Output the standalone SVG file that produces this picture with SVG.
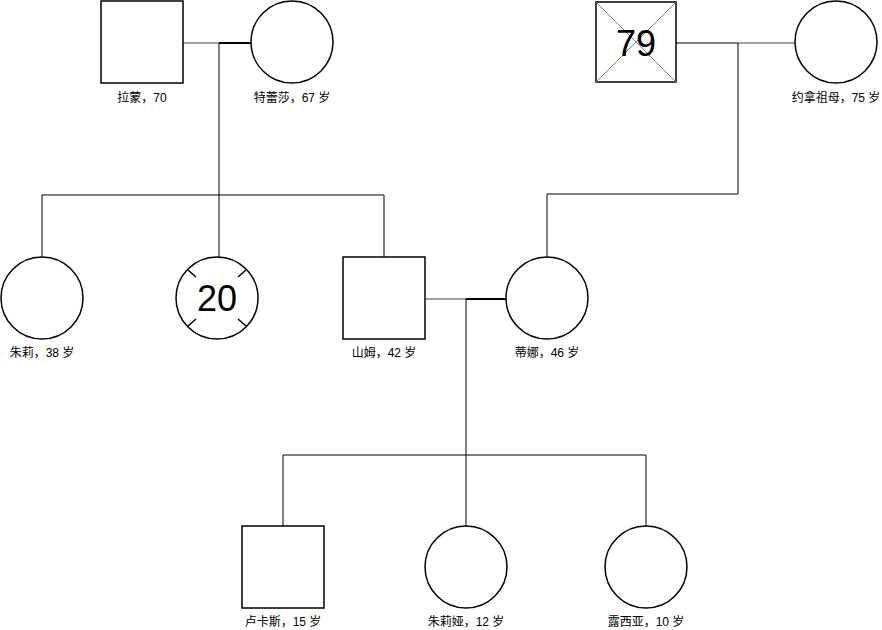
<svg xmlns="http://www.w3.org/2000/svg" width="882" height="630" viewBox="0 0 882 630">
<style>
.n{fill:#fff;stroke:#000;stroke-width:1.5}
.l{font-family:"Liberation Sans","Noto Sans CJK SC",sans-serif;font-size:12px;text-anchor:middle;fill:#000}
.big{font-family:"Liberation Sans",sans-serif;font-size:36px;text-anchor:middle;fill:#000}
.c{fill:none;stroke:#000;stroke-width:1}
.g{fill:none;stroke:#808080;stroke-width:1.5}
.k{fill:none;stroke:#000;stroke-width:2}
</style>
<rect width="882" height="630" fill="#fff"/>
<g id="connectors">
<path class="g" d="M183 43H219"/><path class="k" d="M219 43H251"/>
<path class="c" d="M219 43V257M42 257V195H384V257"/>
<path class="c" d="M676 43H738"/><path class="g" d="M738 43H795"/>
<path class="c" d="M738 43V194H547V257"/>
<path class="g" d="M425 299H466"/><path class="k" d="M466 299H506"/>
<path class="c" d="M466 299V526M283 526V455H646V526"/>
</g>
<g id="ramon"><rect class="n" x="101" y="1" width="82" height="82"/><text class="l" x="142" y="102">拉蒙，70</text></g>
<g id="teresa"><circle class="n" cx="292" cy="42" r="41"/><text class="l" x="292" y="102">特蕾莎，67 岁</text></g>
<g id="grandpa"><rect class="n" x="596" y="2" width="80" height="80" stroke-width="2"/><path d="M596 2L676 82M676 2L596 82" stroke="#808080" stroke-width="1"/><text class="big" x="636" y="56">79</text></g>
<g id="grandma"><circle class="n" cx="836" cy="42" r="41"/><text class="l" x="836" y="102">约拿祖母，75 岁</text></g>
<g id="julie"><circle class="n" cx="42" cy="298" r="41"/><text class="l" x="42" y="357">朱莉，38 岁</text></g>
<g id="dead20"><circle class="n" cx="217" cy="298" r="41"/><path d="M188 270L196 277M246 270L238 277M188 326L196 319M246 326L238 319" stroke="#000" stroke-width="1.5"/><text class="big" x="217" y="311">20</text></g>
<g id="sam"><rect class="n" x="343" y="257" width="82" height="82"/><text class="l" x="384" y="357">山姆，42 岁</text></g>
<g id="tina"><circle class="n" cx="547" cy="298" r="41"/><text class="l" x="547" y="357">蒂娜，46 岁</text></g>
<g id="lucas"><rect class="n" x="242" y="526" width="82" height="82"/><text class="l" x="283" y="626">卢卡斯，15 岁</text></g>
<g id="julia"><circle class="n" cx="466" cy="567" r="41"/><text class="l" x="466" y="626">朱莉娅，12 岁</text></g>
<g id="lucia"><circle class="n" cx="646" cy="567" r="41"/><text class="l" x="646" y="626">露西亚，10 岁</text></g>
</svg>
